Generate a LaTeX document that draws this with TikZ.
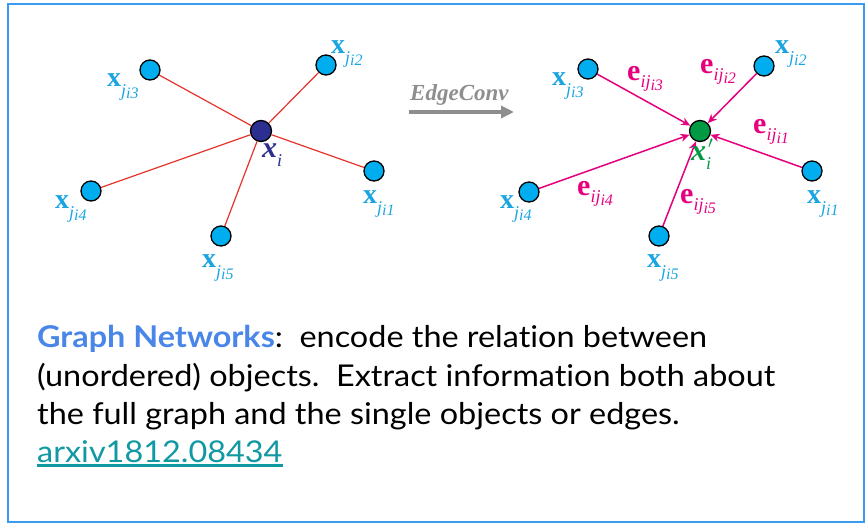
\documentclass[tikz,border=0pt]{standalone}
\usepackage{fontspec}
\setmainfont{Lato}
\newfontfamily\descfont{Lato}[FakeStretch=1.08, Ligatures=CommonOff]
\newfontfamily\tms{Liberation Serif}
\usetikzlibrary{arrows.meta}
\definecolor{cFrame}{HTML}{3A9BF2}
\definecolor{cNode}{HTML}{00AEEF}
\definecolor{cLab}{HTML}{1BA5E0}
\definecolor{cCtr}{HTML}{2B2F8F}
\definecolor{cNew}{HTML}{009A44}
\definecolor{cEdge}{HTML}{E5332A}
\definecolor{cMsg}{HTML}{E5007E}
\definecolor{cArrow}{HTML}{8E8E8E}
\definecolor{cHead}{HTML}{4A86E8}
\definecolor{cLink}{HTML}{1199A3}
\tikzset{
  vtx/.style={circle, draw=black, line width=1.3pt, fill=cNode, minimum size=20pt, inner sep=0pt},
  ctrvtx/.style={vtx, fill=cCtr, minimum size=21pt},
  newvtx/.style={vtx, fill=cNew, minimum size=21pt},
  xlbl/.style={anchor=base west, inner sep=0pt, text=cLab, font=\tms\fontsize{28}{28}\selectfont},
  elbl/.style={xlbl, text=cMsg, font=\tms\fontsize{30}{30}\selectfont},
  ilbl/.style={xlbl, text=cCtr, font=\tms\fontsize{30}{30}\selectfont},
  olbl/.style={ilbl, text=cNew},
  edge/.style={cEdge, line width=1.2pt},
  msg/.style={cMsg, line width=1.5pt, -{Stealth[length=9pt, width=8pt]}},
  bigarr/.style={cArrow, line width=3.5pt, -{Triangle[length=13pt, width=12pt]}},
  txt/.style={anchor=base west, inner sep=0pt, font=\descfont\fontsize{30}{38}\selectfont}
}
\newcommand{\subf}{\fontsize{18}{18}\selectfont\mdseries\itshape}
\newcommand{\subsubf}{\fontsize{16}{16}\selectfont\mdseries\itshape}
\newcommand{\xj}[1]{{\bfseries x}\raisebox{-10pt}{\subf j\raisebox{-2pt}{\subsubf i#1}}}
\newcommand{\eij}[1]{{\bfseries e}\raisebox{-7pt}{\subf ij\raisebox{-3pt}{\subsubf i#1}}}
\newcommand{\ulink}[1]{\setbox0\hbox{#1}\rlap{\rule[-5pt]{\wd0}{2.6pt}}\box0}

\begin{document}
\begin{tikzpicture}[x=1pt, y=-1pt]
\useasboundingbox (0,0) rectangle (866,525);
\draw[cFrame, line width=2pt] (7.5,3.5) rectangle (864,521.5);
% input graph
\node[ctrvtx] (xi) at (261,131) {};
\node[vtx] (a1) at (374,171) {};
\node[vtx] (a2) at (326,65) {};
\node[vtx] (a3) at (150,70) {};
\node[vtx] (a4) at (91,191) {};
\node[vtx] (a5) at (221,236) {};
\foreach \n in {a1,a2,a3,a4,a5} \draw[edge] (xi) -- (\n);
\node[xlbl] (la1) at (363,203) {\xj{1}};
\node[xlbl] (la2) at (331,53) {\xj{2}};
\node[xlbl] (la3) at (107,86) {\xj{3}};
\node[xlbl] (la4) at (55,208) {\xj{4}};
\node[xlbl] (la5) at (202,267) {\xj{5}};
\node[ilbl] (lxi) at (262,157) {{\bfseries\itshape x}\raisebox{-9pt}{\subf i}};
% edge convolution
\node[anchor=base west, inner sep=0pt, text=cArrow, font=\tms\bfseries\itshape\fontsize{23}{23}\selectfont] (conv) at (410,100) {EdgeConv};
\coordinate (g0) at (409,112);
\coordinate (g1) at (514,112);
\draw[bigarr] (g0) -- (g1);
% output graph
\node[newvtx] (xo) at (700,131) {};
\node[vtx] (b1) at (812,171) {};
\node[vtx] (b2) at (764,66) {};
\node[vtx] (b3) at (588,69) {};
\node[vtx] (b4) at (529,192) {};
\node[vtx] (b5) at (659,236) {};
\foreach \n in {b1,b2,b3,b4,b5} \draw[msg] (\n) -- (xo);
\node[xlbl] (lb1) at (807,203) {\xj{1}};
\node[xlbl] (lb2) at (775,53) {\xj{2}};
\node[xlbl] (lb3) at (552,85) {\xj{3}};
\node[xlbl] (lb4) at (500,208) {\xj{4}};
\node[xlbl] (lb5) at (647,267) {\xj{5}};
\node[elbl] (le1) at (753,133) {\eij{1}};
\node[elbl] (le2) at (700,73) {\eij{2}};
\node[elbl] (le3) at (627,80) {\eij{3}};
\node[elbl] (le4) at (577,195) {\eij{4}};
\node[elbl] (le5) at (680,203) {\eij{5}};
\node[olbl] (lxo) at (691,160) {{\bfseries\itshape x}\raisebox{-9pt}{\subf i}\hspace{-3pt}\raisebox{12pt}{\fontsize{16}{16}\selectfont$\prime$}};
% description
\node[txt] (t1) at (37,347) {\textcolor{cHead}{\bfseries Graph Networks}:\hspace{0.55em}encode the relation between};
\node[txt] (t2) at (37,386) {(unordered) objects.\hspace{0.55em}Extract information both about};
\node[txt] (t3) at (37,424) {the full graph and the single objects or edges.};
\node[txt, text=cLink] (t4) at (37,462) {\ulink{arxiv1812.08434}};
\end{tikzpicture}
\end{document}
